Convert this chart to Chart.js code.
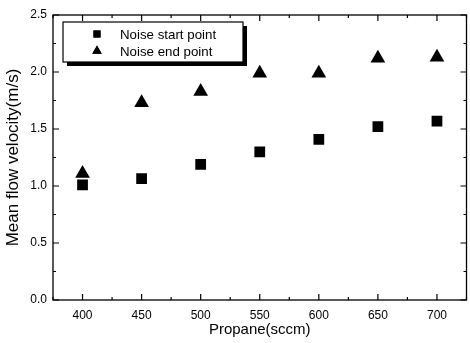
<!DOCTYPE html>
<html>
<head>
<meta charset="utf-8">
<script src="https://cdn.jsdelivr.net/npm/chart.js@4.4.0/dist/chart.umd.min.js"></script>
<style>
  html, body { margin: 0; padding: 0; background: #fff; overflow: hidden; }
  #wrap { width: 475px; height: 343px; }
</style>
</head>
<body>
<div id="wrap"><canvas id="grafico"></canvas></div>
<script>
const propano = [400, 450, 500, 550, 600, 650, 700];
const inicioRuido = [1.01, 1.065, 1.19, 1.30, 1.41, 1.52, 1.57];
const fimRuido = [1.11, 1.73, 1.83, 1.99, 1.99, 2.12, 2.13];
const ticksX = [400, 450, 500, 550, 600, 650, 700];
const ticksXMenor = [375, 425, 475, 525, 575, 625, 675, 725];
const ticksY = [0, 0.5, 1.0, 1.5, 2.0, 2.5];
const ticksYMenor = [0.25, 0.75, 1.25, 1.75, 2.25];
const nomesSeries = ["Noise start point", "Noise end point"];

const fonte = "'Liberation Sans', Arial, sans-serif";

function pontos(valores) {
  return propano.map((x, i) => ({ x: x, y: valores[i] }));
}

// moldura com ticks para dentro nos quatro lados
const moldura = {
  id: "moldura",
  afterDraw(chart) {
    const ctx = chart.ctx;
    const a = chart.chartArea;
    const sx = chart.scales.x;
    const sy = chart.scales.y;
    ctx.save();
    ctx.strokeStyle = "#000";
    ctx.lineWidth = 1.3;
    ctx.strokeRect(a.left, a.top, a.right - a.left, a.bottom - a.top);
    ctx.lineWidth = 1.2;
    ctx.beginPath();
    const tickX = (v, len) => {
      const px = sx.getPixelForValue(v);
      ctx.moveTo(px, a.bottom); ctx.lineTo(px, a.bottom - len);
      ctx.moveTo(px, a.top); ctx.lineTo(px, a.top + len);
    };
    const tickY = (v, len) => {
      const py = sy.getPixelForValue(v);
      ctx.moveTo(a.left, py); ctx.lineTo(a.left + len, py);
      ctx.moveTo(a.right, py); ctx.lineTo(a.right - len, py);
    };
    ticksX.forEach(v => tickX(v, 6));
    ticksXMenor.forEach(v => tickX(v, 3));
    ticksY.forEach(v => tickY(v, 6));
    ticksYMenor.forEach(v => tickY(v, 3));
    ctx.stroke();
    ctx.restore();
  }
};

// legenda dentro do grafico, com sombra
const legendaCaixa = {
  id: "legendaCaixa",
  afterDraw(chart) {
    const ctx = chart.ctx;
    const x = 63, y = 22, w = 180, h = 40;
    ctx.save();
    ctx.fillStyle = "#000";
    ctx.fillRect(x + 4, y + 4, w, h);
    ctx.fillStyle = "#fff";
    ctx.fillRect(x, y, w, h);
    ctx.strokeStyle = "#000";
    ctx.lineWidth = 1.2;
    ctx.strokeRect(x, y, w, h);
    ctx.font = "13.3px " + fonte;
    ctx.textBaseline = "middle";
    ctx.textAlign = "left";
    chart.data.datasets.forEach((ds, i) => {
      const cy = y + 12 + i * 17;
      ctx.fillStyle = "#000";
      Chart.helpers.drawPoint(ctx, { pointStyle: ds.pointStyle, radius: ds.pointStyle === "rect" ? 5 : 5.5, borderWidth: 0 }, x + 34, cy);
      ctx.fill();
      ctx.fillText(ds.label, x + 57, cy + 1);
    });
    ctx.restore();
  }
};

new Chart(document.getElementById("grafico"), {
  type: "scatter",
  data: {
    datasets: [
      {
        label: nomesSeries[0],
        data: pontos(inicioRuido),
        pointStyle: "rect",
        pointRadius: 7.6,
        pointHoverRadius: 7.6,
        backgroundColor: "#000",
        borderColor: "#000",
        borderWidth: 0
      },
      {
        label: nomesSeries[1],
        data: pontos(fimRuido),
        pointStyle: "triangle",
        pointRadius: 8.5,
        pointHoverRadius: 8.5,
        backgroundColor: "#000",
        borderColor: "#000",
        borderWidth: 0
      }
    ]
  },
  options: {
    responsive: true,
    maintainAspectRatio: false,
    animation: false,
    events: [],
    layout: { padding: { top: 15, right: 2, left: 0, bottom: 0 } },
    plugins: {
      legend: { display: false },
      tooltip: { enabled: false }
    },
    scales: {
      x: {
        type: "linear",
        min: 375,
        max: 725,
        afterBuildTicks: s => { s.ticks = ticksX.map(v => ({ value: v })); },
        afterFit: s => { s.height = 43; s.paddingLeft = 0; s.paddingRight = 0; },
        grid: { display: false, drawTicks: false },
        border: { display: false },
        ticks: { color: "#000", padding: 8, font: { family: fonte, size: 12 }, maxRotation: 0 },
        title: { display: true, text: "Propane(sccm)", color: "#000", font: { family: fonte, size: 15 }, padding: { top: 0, bottom: 4 } }
      },
      y: {
        min: 0,
        max: 2.5,
        afterBuildTicks: s => { s.ticks = ticksY.map(v => ({ value: v })); },
        afterFit: s => { s.width = 53; s.paddingTop = 0; s.paddingBottom = 0; },
        grid: { display: false, drawTicks: false },
        border: { display: false },
        ticks: { color: "#000", padding: 6, font: { family: fonte, size: 12 }, callback: v => Number(v).toFixed(1) },
        title: { display: true, text: "Mean flow velocity(m/s)", color: "#000", font: { family: fonte, size: 17 }, padding: { top: 3, bottom: 0 } }
      }
    }
  },
  plugins: [moldura, legendaCaixa]
});
</script>
</body>
</html>
